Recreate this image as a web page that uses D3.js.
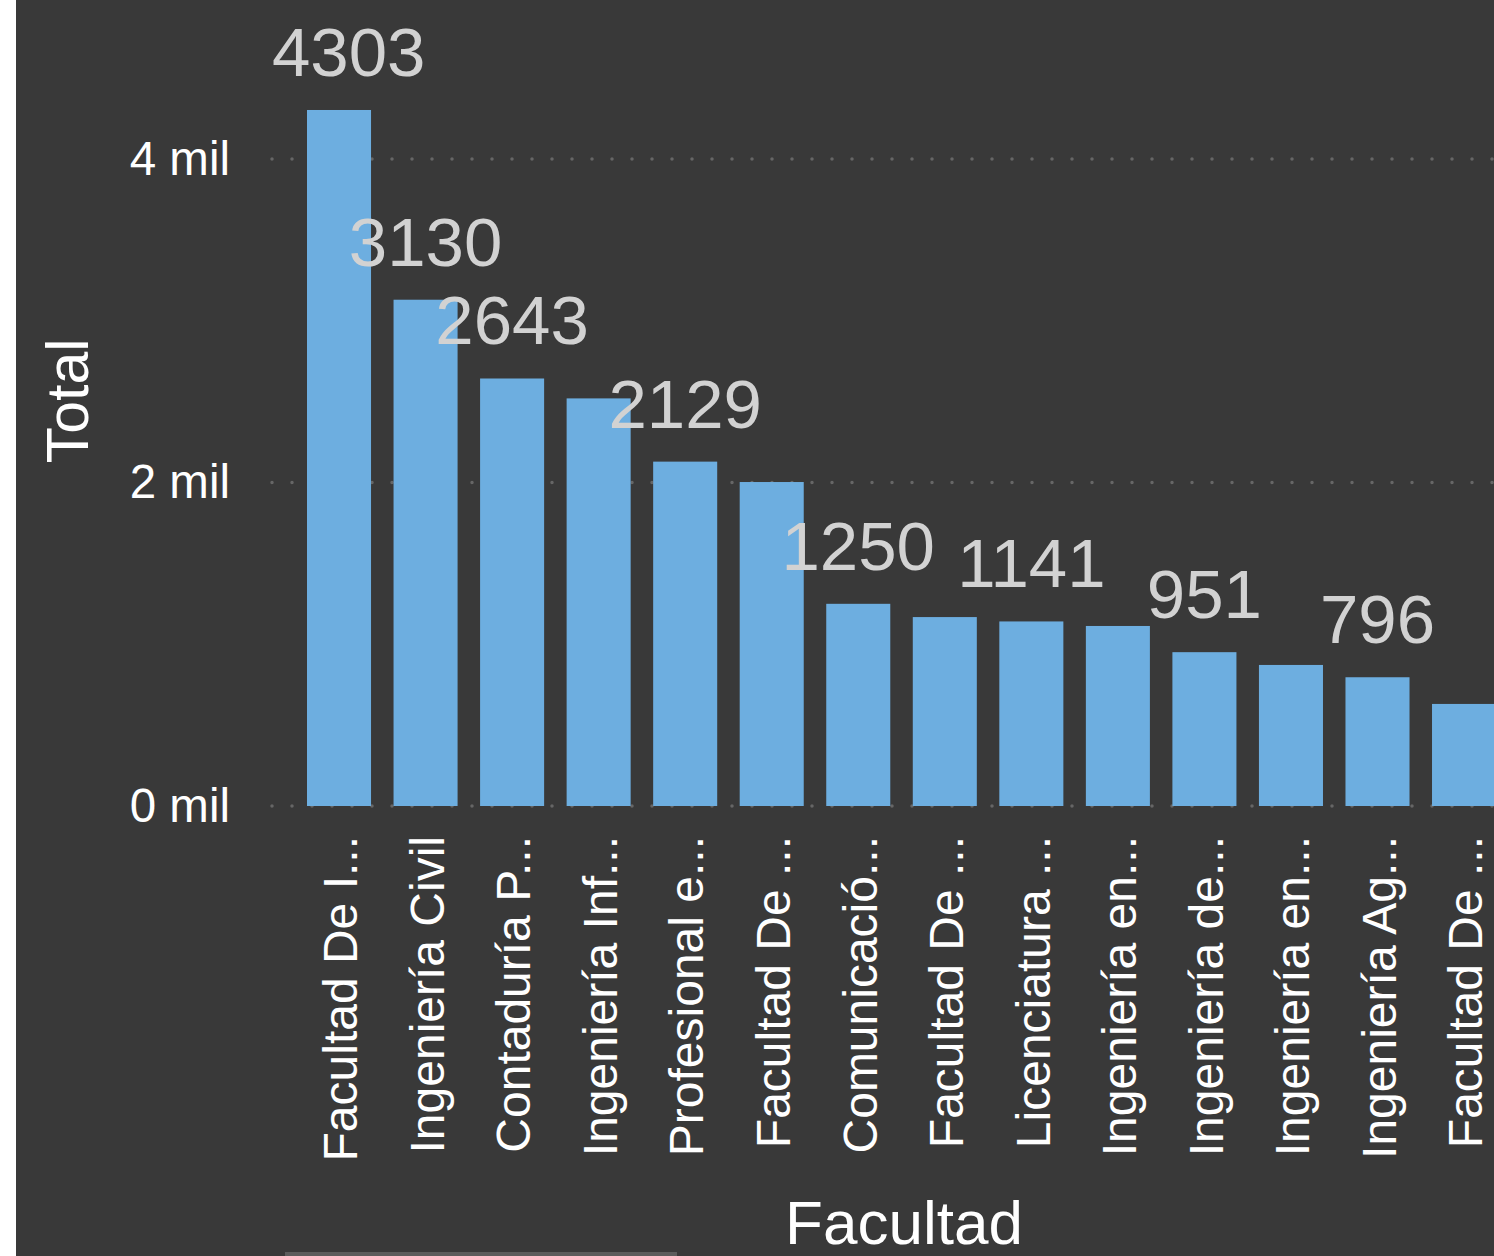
<!DOCTYPE html>
<html>
<head>
<meta charset="utf-8">
<script src="https://cdn.jsdelivr.net/npm/d3@7"></script>
<style>
  body { margin: 0; background: #ffffff; overflow: hidden; }
  svg { display: block; font-family: "Liberation Sans", Arial, sans-serif; }
</style>
</head>
<body>
<div id="chart"></div>
<script>
// data
var facultades = ["Facultad De I...", "Ingeniería Civil", "Contaduría P...", "Ingeniería Inf...",
  "Profesional e...", "Facultad De ...", "Comunicació...", "Facultad De ...", "Licenciatura ...",
  "Ingeniería en...", "Ingeniería de...", "Ingeniería en...", "Ingeniería Ag...", "Facultad De ..."];
var totales = [4303, 3130, 2643, 2520, 2129, 2003, 1250, 1168, 1141, 1113, 951, 872, 796, 631];
// which bars carry a value label in the picture
var conEtiqueta = [true, true, true, false, true, false, true, false, true, false, true, false, true, false];
var yTicks = [0, 2000, 4000];

var W = 1494, H = 1256;
var plotLeft = 272;

var svg = d3.select("#chart")
  .append("svg")
    .attr("width", W)
    .attr("height", H);

// dark panel, white strip on the left
svg.append("rect")
  .attr("x", 16).attr("y", 0)
  .attr("width", W - 16).attr("height", H)
  .attr("fill", "#393939");

var x = d3.scaleBand()
  .domain(d3.range(facultades.length))
  .range([295.75, 295.75 + 86.54 * facultades.length])
  .paddingInner(0.26)
  .paddingOuter(0.13);

var y = d3.scaleLinear()
  .domain([0, 4000])
  .range([806, 159]);

// dotted gridlines
svg.append("g")
  .selectAll("line")
  .data(yTicks)
  .enter()
  .append("line")
    .attr("x1", plotLeft)
    .attr("x2", W)
    .attr("y1", function(d) { return y(d); })
    .attr("y2", function(d) { return y(d); })
    .attr("stroke", "#666666")
    .attr("stroke-width", 3.5)
    .attr("stroke-linecap", "round")
    .attr("stroke-dasharray", "0 20");

// y axis labels
var yAxis = svg.append("g")
  .attr("transform", "translate(230,0)")
  .call(d3.axisLeft(y).tickValues(yTicks).tickSize(0).tickPadding(0)
    .tickFormat(function(d) { return (d / 1000) + " mil"; }));
yAxis.select(".domain").remove();
yAxis.selectAll("text")
  .attr("fill", "#ffffff")
  .attr("font-size", 47.5)
  .attr("font-family", "Liberation Sans, Arial, sans-serif");

// x axis labels
var xAxis = svg.append("g")
  .attr("transform", "translate(0,806)")
  .call(d3.axisBottom(x).tickSize(0).tickFormat(function(i) { return facultades[i]; }));
xAxis.select(".domain").remove();
xAxis.selectAll("text")
  .attr("fill", "#ffffff")
  .attr("font-size", 48)
  .attr("font-family", "Liberation Sans, Arial, sans-serif")
  .attr("text-anchor", "end")
  .attr("transform", "rotate(-90)")
  .attr("x", -30)
  .attr("y", 0)
  .attr("dy", "0.38em");

//Bars
svg.selectAll("rect.bar")
  .data(totales)
  .enter()
  .append("rect")
    .attr("class", "bar")
    .attr("x", function(d, i) { return x(i); })
    .attr("y", function(d) { return y(d); })
    .attr("width", x.bandwidth())
    .attr("height", function(d) { return y(0) - y(d); })
    .attr("fill", "#6daee0");

// value labels (kept inside the plot area on the left)
var etiquetas = svg.append("g")
  .selectAll("text")
  .data(d3.range(totales.length).filter(function(i) { return conEtiqueta[i]; }))
  .enter()
  .append("text")
    .attr("text-anchor", "middle")
    .attr("font-size", 69)
    .attr("fill", "#d2d2d2")
    .attr("y", function(i) { return y(totales[i]) - 34; })
    .text(function(i) { return totales[i]; });
etiquetas.attr("x", function(i) {
  var w = this.getComputedTextLength();
  return Math.max(x(i) + x.bandwidth() / 2, plotLeft + w / 2);
});

// axis titles
svg.append("text")
  .attr("transform", "translate(88,401) rotate(-90)")
  .attr("text-anchor", "middle")
  .attr("font-size", 59)
  .attr("fill", "#ffffff")
  .text("Total");

svg.append("text")
  .attr("x", 904)
  .attr("y", 1244)
  .attr("text-anchor", "middle")
  .attr("font-size", 62)
  .attr("fill", "#ffffff")
  .text("Facultad");

// scrollbar stub at the bottom
svg.append("rect")
  .attr("x", 285).attr("y", 1252)
  .attr("width", 392).attr("height", 4)
  .attr("fill", "#5c5c5c");
</script>
</body>
</html>
